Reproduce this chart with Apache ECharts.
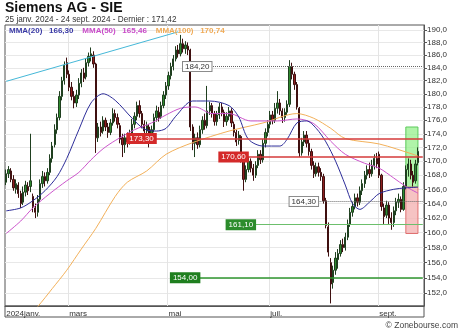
<!DOCTYPE html>
<html><head><meta charset="utf-8">
<script src="https://cdn.jsdelivr.net/npm/echarts@6/dist/echarts.min.js"></script>
<style>html,body{margin:0;padding:0;background:#fff}#c{width:460px;height:331px}</style>
</head><body><div id="c"></div>
<script>
// trading days (Xetra) 25 Jan 2024 - 24 Sept 2024
const monthDays = [
  ['01', [25,26,29,30,31]],
  ['02', [1,2,5,6,7,8,9,12,13,14,15,16,19,20,21,22,23,26,27,28,29]],
  ['03', [1,4,5,6,7,8,11,12,13,14,15,18,19,20,21,22,25,26,27,28]],
  ['04', [2,3,4,5,8,9,10,11,12,15,16,17,18,19,22,23,24,25,26,29,30]],
  ['05', [2,3,6,7,8,9,10,13,14,15,16,17,20,21,22,23,24,27,28,29,30,31]],
  ['06', [3,4,5,6,7,10,11,12,13,14,17,18,19,20,21,24,25,26,27,28]],
  ['07', [1,2,3,4,5,8,9,10,11,12,15,16,17,18,19,22,23,24,25,26,29,30,31]],
  ['08', [1,2,5,6,7,8,9,12,13,14,15,16,19,20,21,22,23,26,27,28,29,30]],
  ['09', [2,3,4,5,6,9,10,11,12,13,16,17,18,19,20,23,24]]
];
const dates = [];
monthDays.forEach(([m, days]) => days.forEach(d => dates.push(String(d).padStart(2, '0') + '/' + m + '/2024')));

const opens = [
167.0,168.2,168.6,167.4,166.0,166.6,165.4,164.2,165.6,166.4,166.4,165.0,163.4,162.8,164.6,166.8,167.8,167.2,168.4,170.4,172.4,174.6,176.4,179.6,182.0,184.8,
183.0,181.0,179.6,178.6,179.8,181.6,183.2,182.6,184.8,185.8,186.0,184.6,173.4,175.0,174.4,176.0,175.0,174.2,175.6,177.0,
176.4,175.2,173.4,172.4,173.4,172.8,174.0,175.4,176.6,178.2,177.0,175.4,174.4,175.0,173.4,174.6,176.4,177.2,176.6,178.2,179.8,
181.2,182.8,184.2,185.4,186.8,186.2,187.8,187.0,187.4,186.8,175.0,172.6,173.4,172.4,174.6,176.0,175.2,177.4,178.2,177.0,175.8,176.8,
178.0,177.2,175.8,176.6,177.4,175.4,174.2,173.0,173.6,170.4,167.4,168.8,170.0,169.0,168.0,169.4,171.0,170.2,172.6,174.2,
175.4,176.8,176.0,177.8,178.6,177.4,176.4,177.2,178.4,184.2,183.0,181.4,177.8,171.2,172.8,173.8,172.6,171.4,169.4,168.2,169.2,168.4,167.8,
164.4,160.8,156.0,153.4,155.0,156.4,157.2,158.4,158.0,159.4,161.2,162.8,163.6,164.8,164.2,165.8,166.8,168.0,168.8,168.2,169.4,170.4,
171.0,168.0,163.4,162.4,163.8,162.0,161.4,163.0,164.2,164.6,163.2,166.4,168.8,169.6,168.0,167.2,169.8
];
const closes = [
168.2,168.8,167.4,166.2,166.8,165.4,164.0,165.6,166.6,165.8,167.2,163.6,162.8,164.6,166.8,167.8,167.2,168.4,170.4,172.2,174.6,176.4,179.6,182.0,184.4,183.0,
181.0,179.6,178.6,179.8,181.6,183.2,182.4,184.8,185.8,186.2,184.6,173.4,175.0,174.2,176.0,175.0,174.2,175.6,177.0,176.4,
175.4,173.2,172.4,173.4,172.8,174.0,175.4,176.6,178.2,177.0,175.4,174.4,175.2,173.4,174.6,176.4,177.4,176.4,178.2,179.8,181.2,
182.8,184.2,185.4,186.8,186.2,187.8,187.0,187.6,186.8,175.0,172.6,173.4,172.4,174.6,176.0,175.2,177.4,178.2,177.0,175.8,176.8,178.0,
177.2,175.8,176.6,177.4,175.6,174.2,172.8,173.8,170.4,167.4,168.8,170.0,169.0,168.0,169.4,171.0,170.2,172.6,174.2,175.4,
176.8,176.0,177.8,178.6,177.4,176.4,177.2,178.4,184.2,183.0,181.4,178.0,171.2,172.8,173.8,172.6,171.4,169.4,168.2,169.2,168.4,167.8,164.4,
161.0,157.4,153.2,155.0,156.6,157.2,158.4,158.0,159.4,161.2,162.8,163.6,164.8,164.2,165.8,166.8,168.0,168.8,168.2,169.4,170.4,169.6,
168.0,163.6,162.2,163.8,162.0,161.4,163.0,164.2,164.6,163.2,166.4,168.8,169.6,168.0,167.0,169.6,171.42
];
const lows = [
166.6,167.6,167.0,165.8,165.4,164.8,163.4,163.8,165.0,165.2,165.6,162.8,162.0,162.2,164.2,166.2,166.4,166.8,168.0,169.8,172.0,174.0,176.0,179.0,181.4,182.4,
180.4,179.0,177.8,178.0,179.2,181.0,181.8,182.2,184.2,185.0,184.0,171.2,172.8,173.6,174.0,174.4,173.4,173.8,175.2,175.8,
174.8,172.6,170.6,171.2,172.0,172.4,173.4,174.8,176.0,176.4,174.8,173.8,173.6,172.0,172.6,174.2,175.8,175.8,176.2,177.8,179.2,
180.6,182.2,183.6,185.0,185.6,185.8,186.4,186.2,186.0,174.4,171.6,170.6,171.8,172.0,174.0,174.6,174.8,176.8,176.4,175.2,175.2,176.2,
176.6,175.0,175.2,176.0,175.0,173.6,172.2,172.4,169.8,165.8,167.0,168.4,168.4,167.2,167.6,169.0,169.6,169.8,172.0,173.6,
174.8,175.4,175.6,177.0,176.8,175.6,175.8,176.8,178.0,182.2,180.6,177.6,170.6,170.8,172.2,172.0,170.8,168.8,167.6,167.8,167.8,167.2,164.0,
160.6,156.8,150.7,152.6,154.4,155.2,156.8,157.4,157.6,159.0,160.8,162.2,163.2,163.6,163.8,165.2,166.2,167.4,167.6,167.8,168.8,169.0,
167.6,163.0,161.2,162.0,161.2,160.4,160.8,162.4,163.4,162.8,163.0,166.0,167.8,167.4,166.4,166.8,169.4
];
const highs = [
168.8,169.3,169.0,168.0,167.4,167.0,165.8,166.4,167.2,167.0,174.0,165.4,164.0,165.2,167.4,168.6,168.4,169.0,171.0,172.8,175.4,177.0,180.4,182.6,185.0,185.6,
183.6,181.8,180.4,180.6,182.4,183.8,184.0,185.4,186.4,187.2,186.6,184.8,175.6,175.8,176.6,176.4,175.6,176.2,177.8,177.6,
177.0,175.6,174.0,174.0,174.2,174.6,176.2,177.2,178.8,179.0,177.4,176.0,175.8,175.4,175.2,177.0,178.2,178.0,178.8,180.4,181.8,
183.4,184.8,186.0,187.4,187.6,189.2,188.6,188.2,188.0,187.0,175.4,174.0,174.2,175.2,176.6,177.0,181.2,178.8,178.6,177.4,177.4,178.6,
178.6,177.6,177.2,178.0,177.8,175.8,174.6,174.4,173.8,170.8,169.4,170.6,170.4,169.6,170.0,171.6,171.6,173.2,174.8,176.0,
177.4,177.4,178.6,180.4,179.2,177.8,177.8,179.0,185.2,184.8,183.4,181.8,178.0,173.4,174.4,174.4,173.2,171.8,170.0,169.8,169.8,169.0,168.2,
164.8,161.4,156.6,155.6,157.4,157.8,159.0,159.2,160.0,161.8,163.4,164.2,165.4,165.4,166.4,167.4,168.6,169.4,169.8,170.2,171.0,171.2,
171.4,168.2,164.0,164.4,164.2,162.8,163.6,164.8,165.4,165.0,167.0,169.4,170.4,170.2,168.6,170.2,172.0
];

// moving averages: [day index, value]
const ma20 = [[0,163.0],[6,163.4],[11,164.4],[16,165.8],[21,167.8],[25,170.4],[30,174.6],[35,178.6],[40,180.0],[45,179.0],[52,176.3],[57,174.7],[62,174.4],[66,174.8],[70,176.6],[77,178.9],[84,178.9],[92,178.2],[96,176.5],[100,173.2],[106,172.2],[113,172.2],[116,173.2],[120,175.6],[124,175.9],[128,174.8],[132,172.8],[136,170.0],[140,166.6],[143,164.0],[146,163.2],[150,164.2],[154,165.4],[160,166.0],[165,166.2],[170,166.3]];
const ma50 = [[0,159.9],[6,161.6],[11,163.4],[18,165.4],[25,167.2],[30,168.4],[35,170.2],[40,171.8],[45,173.0],[53,174.6],[60,175.6],[66,176.8],[72,177.8],[78,178.0],[85,177.0],[92,177.0],[101,175.9],[112,175.9],[120,176.2],[127,175.5],[134,172.9],[140,171.0],[148,169.7],[154,169.0],[160,167.6],[165,166.4],[170,165.46]];
const ma100 = [[0,146.5],[8,148.8],[13,150.3],[19,152.6],[25,155.0],[31,157.8],[37,160.6],[45,165.0],[50,167.0],[58,168.6],[66,171.0],[77,172.7],[92,174.4],[106,175.6],[120,177.0],[127,176.3],[134,174.8],[140,173.3],[154,172.5],[168,171.0],[170,170.74]];
const trendLine = [[0,181.9],[71,189.7]];

const maNames = ['MMA(20)', 'MMA(50)', 'MMA(100)'];
const maLast = ['166,30', '165,46', '170,74'];

const yTicks = [152,154,156,158,160,162,164,166,168,170,172,174,176,178,180,182,184,186,188,190];
const xTickIdx = [0, 26, 67, 109, 154];
const xTickText = ['2024janv.', 'mars', 'mai', 'juil.', 'sept.'];

const levelValues = [184.20, 173.30, 170.60, 164.30, 161.10, 154.00];
const levelStart = [73, 50, 88, 117, 91, 68];
const levelKind = ['ref', 'res', 'res', 'ref', 'sup', 'sup2'];

const zoneX = [165, 170];
const greenZone = [166.3, 175.0];
const redZone = [159.9, 166.3];

const FONT = 'Liberation Sans';
const categories = dates.concat(['', '']);
const lastIdx = categories.length - 1;

const kindStyle = {
  ref:  { line: { color: '#666', type: 'dotted', width: 1 }, bg: '#fff', fg: '#333', border: '#888' },
  res:  { line: { color: '#d43a3a', type: 'solid', width: 1.5 }, bg: '#d42a2a', fg: '#fff', border: '#d42a2a' },
  sup:  { line: { color: '#6cbf6c', type: 'solid', width: 1.2 }, bg: '#2c8c2c', fg: '#fff', border: '#2c8c2c' },
  sup2: { line: { color: '#2f962f', type: 'solid', width: 1.5 }, bg: '#1f7f1f', fg: '#fff', border: '#1f7f1f' }
};
const fmt = v => v.toFixed(2).replace('.', ',');

const markLineData = levelValues.map((v, k) => {
  const s = kindStyle[levelKind[k]];
  return [
    { coord: [levelStart[k], v], lineStyle: s.line,
      label: { show: true, position: 'insideStart', distance: 0, formatter: fmt(v), color: s.fg,
               backgroundColor: s.bg, borderColor: s.border, borderWidth: 1, padding: [1, 2, 0, 2],
               fontSize: 8, fontFamily: FONT } },
    { coord: [lastIdx, v] }
  ];
});

const chart = echarts.init(document.getElementById('c'), null, { renderer: 'canvas' });
const option = {
  animation: false,
  backgroundColor: '#fff',
  textStyle: { fontFamily: FONT },
  title: [
    { text: 'Siemens AG - SIE', left: 5, top: 1.5, padding: 0, textStyle: { fontSize: 14, fontWeight: 'bold', color: '#111', fontFamily: FONT } },
    { text: '25 janv. 2024 - 24 sept. 2024 - Dernier : ' + closes[closes.length - 1].toFixed(2).replace('.', ','),
      left: 5, top: 15.5, padding: 0, textStyle: { fontSize: 8.2, fontWeight: 'normal', color: '#333', fontFamily: FONT } },
    { text: `{a|${maNames[0]}}   {a|${maLast[0]}}    {b|${maNames[1]}}   {b|${maLast[1]}}    {c|${maNames[2]}}   {c|${maLast[2]}}`,
      left: 9, top: 27, padding: 0,
      textStyle: { fontSize: 8, fontFamily: FONT, rich: {
        a: { color: '#3a3aa6', fontSize: 8, fontFamily: FONT },
        b: { color: '#c84ac8', fontSize: 8, fontFamily: FONT },
        c: { color: '#f0aa55', fontSize: 8, fontFamily: FONT } } } },
    { text: '© Zonebourse.com', right: 2, bottom: 1, padding: 0, textStyle: { fontSize: 8.5, fontWeight: 'normal', color: '#444', fontFamily: FONT } }
  ],
  grid: { left: 5, right: 36, top: 25, bottom: 25, show: true, borderColor: '#555', borderWidth: 1, containLabel: false },
  xAxis: {
    type: 'category', data: categories, boundaryGap: true,
    axisLine: { show: true, lineStyle: { color: '#555' } },
    axisTick: { show: false },
    axisLabel: { interval: (i) => xTickIdx.includes(i), formatter: (v, i) => xTickText[xTickIdx.indexOf(i)],
                 align: 'left', margin: 4, fontSize: 8, color: '#333', fontFamily: FONT },
    splitLine: { show: true, interval: (i) => xTickIdx.includes(i) && i > 0, lineStyle: { color: '#e4e4e4' } }
  },
  yAxis: {
    type: 'log', logBase: 10, min: 150.37, max: 190.8, position: 'right',
    axisLine: { show: true, lineStyle: { color: '#555' } },
    axisTick: { show: true, length: 3, customValues: yTicks, lineStyle: { color: '#555' } },
    axisLabel: { customValues: yTicks, margin: 3, fontSize: 8, color: '#333', fontFamily: FONT,
                 formatter: v => Number(v).toFixed(1).replace('.', ',') },
    splitLine: { show: true, lineStyle: { color: '#e8e8e8' } }
  },
  graphic: [
    { type: 'rect', shape: { x: 5, y: 306, width: 419, height: 11 }, style: { fill: 'none', stroke: '#555', lineWidth: 1 }, silent: true }
  ],
  series: [
    { type: 'candlestick', name: 'SIE', barWidth: 1.8,
      data: opens.map((o, i) => [o, closes[i], lows[i], highs[i]]),
      itemStyle: { color: '#2f8a2f', color0: '#8e1e1e', borderColor: '#1f3f1f', borderColor0: '#3f1010', borderWidth: 1 },
      markArea: { silent: true, data: [
        [ { coord: [zoneX[0], greenZone[1]], itemStyle: { color: 'rgba(150,240,140,0.75)', borderColor: '#5cc95c', borderWidth: 1 } },
          { coord: [zoneX[1], greenZone[0]] } ],
        [ { coord: [zoneX[0], redZone[1]], itemStyle: { color: 'rgba(244,180,180,0.8)', borderColor: '#e07070', borderWidth: 1 } },
          { coord: [zoneX[1], redZone[0]] } ]
      ] },
      markLine: { silent: true, symbol: ['none', 'none'], animation: false, data: markLineData }
    },
    { type: 'line', name: maNames[2], data: ma100, showSymbol: false, smooth: 0.3, lineStyle: { color: '#f2b05a', width: 1 }, z: 3 },
    { type: 'line', name: maNames[1], data: ma50, showSymbol: false, smooth: 0.3, lineStyle: { color: '#cc55cc', width: 1 }, z: 3 },
    { type: 'line', name: maNames[0], data: ma20, showSymbol: false, smooth: 0.3, lineStyle: { color: '#2d2d99', width: 1 }, z: 3 },
    { type: 'line', name: 'trend', data: trendLine, showSymbol: false, lineStyle: { color: '#45b8d8', width: 1 }, z: 3 }
  ]
};
chart.setOption(option);
</script>
</body></html>
